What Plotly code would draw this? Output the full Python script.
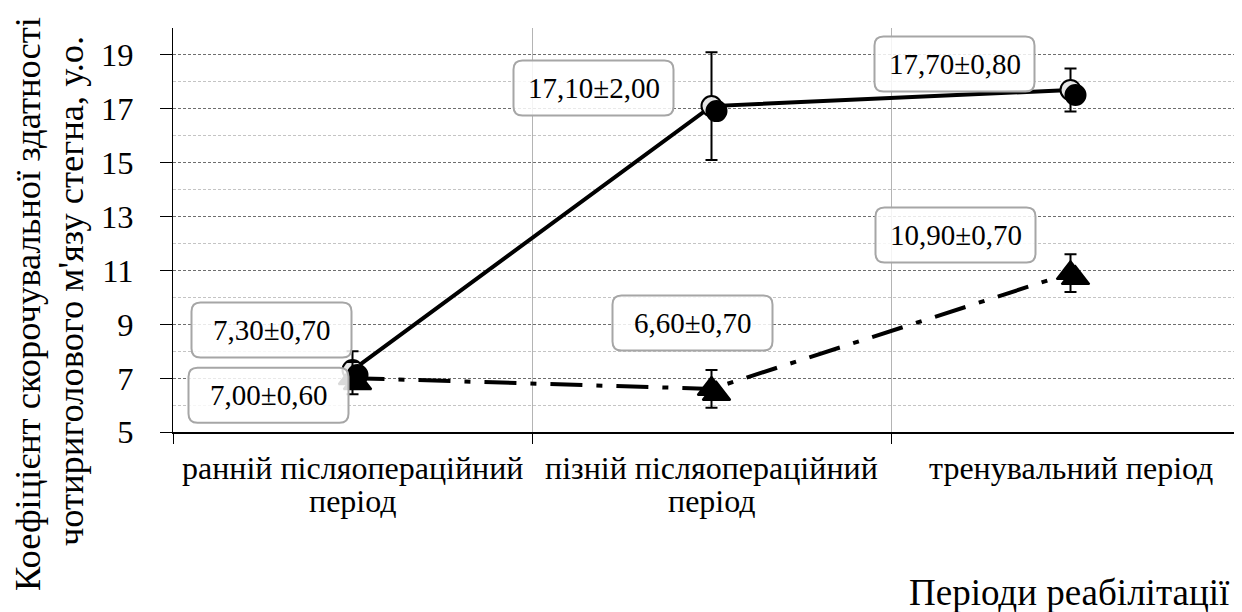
import plotly.graph_objects as go

categories = ["ранній післяопераційний<br>період", "пізній післяопераційний<br>період", "тренувальний період"]
series1 = [7.3, 17.1, 17.7]
series1_err = [0.7, 2.0, 0.8]
series2 = [7.0, 6.6, 10.9]
series2_err = [0.6, 0.7, 0.7]
y_ticks = [5, 7, 9, 11, 13, 15, 17, 19]
labels1 = ["7,30±0,70", "17,10±2,00", "17,70±0,80"]
labels2 = ["7,00±0,60", "6,60±0,70", "10,90±0,70"]
y_title_lines = ["Коефіцієнт скорочувальної здатності", "чотириголового м'язу стегна, у.о."]
x_title = "Періоди реабілітації"

xi = list(range(len(categories)))
FONT = "Liberation Serif"

# pixel geometry helpers (styles only)
cat_px = 359.0
unit_px = 404.0 / 15.0
sh_x = 5.0 / cat_px
sh_y = 5.0 / unit_px
xr = [-0.5, -0.5 + 1069.0 / cat_px]
yr = [5, 20]

fig = go.Figure()

def add_series(vals, errs, dash, symbol, size, fill, xa, ya, shadow):
    fig.add_trace(go.Scatter(
        x=xi, y=vals, mode=("markers" if shadow else "lines+markers"), xaxis=xa, yaxis=ya,
        line=dict(color="black", width=4, dash=dash),
        marker=dict(symbol=symbol, size=size, color=("black" if shadow else fill),
                    line=dict(color="black", width=2)),
        error_y=None if shadow else dict(type="data", array=errs, color="black",
                                           thickness=2, width=6),
        showlegend=False, hoverinfo="skip"))

dash2 = "32px,14px,6px,14px"
add_series(series1, series1_err, "solid", "circle", 20, "#e6e6e6", "x2", "y2", True)
add_series(series1, series1_err, "solid", "circle", 20, "#e6e6e6", "x", "y", False)
add_series(series2, series2_err, dash2, "triangle-up", 24, "black", "x2", "y2", True)
add_series(series2, series2_err, dash2, "triangle-up", 24, "black", "x", "y", False)


def rounded_box(cx, cy, w=160, h=55, r=9):
    x0, x1 = cx - w / 2, cx + w / 2
    y0, y1 = cy - h / 2, cy + h / 2
    return (f"M{x0 + r},{y0} L{x1 - r},{y0} Q{x1},{y0} {x1},{y0 + r} "
            f"L{x1},{y1 - r} Q{x1},{y1} {x1 - r},{y1} L{x0 + r},{y1} "
            f"Q{x0},{y1} {x0},{y1 - r} L{x0},{y0 + r} Q{x0},{y0} {x0 + r},{y0} Z")


shifts1 = [(-81, 40), (-118, 18), (-116, 26)]
shifts2 = [(-84, -17), (-19, 66), (-115, 38)]
for i in xi:
    for vals, labs, shifts in ((series1, labels1, shifts1), (series2, labels2, shifts2)):
        fig.add_shape(type="path", xref="x", yref="y", xsizemode="pixel", ysizemode="pixel",
                      xanchor=i, yanchor=vals[i], path=rounded_box(*shifts[i]),
                      fillcolor="rgba(255,255,255,0.85)", line=dict(color="#a6a6a6", width=2),
                      layer="above")
        fig.add_annotation(x=i, y=vals[i], text=labs[i], showarrow=False,
                           xshift=shifts[i][0], yshift=shifts[i][1],
                           font=dict(family=FONT, size=29, color="black"))

for txt, yp, xs in zip(y_title_lines, [0.317, 0.349], [-145, -103]):
    fig.add_annotation(xref="paper", yref="paper", x=0, y=yp, xanchor="center", yanchor="middle",
                       xshift=xs, textangle=-90, showarrow=False, text=txt,
                       font=dict(family=FONT, size=36.5, color="black"))
fig.add_annotation(xref="paper", yref="paper", x=1, y=-0.397, xanchor="right", yanchor="middle",
                   xshift=-10, showarrow=False, text=x_title,
                   font=dict(family=FONT, size=37, color="black"))

# category labels (two tight lines each)
for i, cat in enumerate(categories):
    for k, line in enumerate(cat.split("<br>")):
        fig.add_annotation(x=i, xref="x", yref="paper", y=[-0.088, -0.172][k],
                           xanchor="center", yanchor="middle", showarrow=False, text=line,
                           font=dict(family=FONT, size=32, color="black"))

fig.update_layout(
    width=1234, height=604,
    margin=dict(l=165, r=0, t=20, b=180, autoexpand=False),
    paper_bgcolor="white", plot_bgcolor="white",
    font=dict(family=FONT, color="black"),
    xaxis=dict(range=xr, tickmode="array", tickvals=xi, ticktext=categories, automargin=False,
               showticklabels=False, ticks="",
               showgrid=False, zeroline=False,
               showline=True, linecolor="black", linewidth=2,
               minor=dict(tickmode="array", tickvals=[-0.5, 0.5, 1.5, 2.5], ticks="outside",
                          ticklen=10, tickcolor="black", tickwidth=1,
                          showgrid=True, gridcolor="#b4b4b4", gridwidth=1)),
    yaxis=dict(range=yr, tickmode="array", tickvals=y_ticks, automargin=False,
               tickfont=dict(family=FONT, size=32.5), ticks="outside", ticklen=12,
               ticklabelstandoff=20,
               tickcolor="black", tickwidth=1, showline=True, linecolor="black", linewidth=1,
               zeroline=False, showgrid=True, gridcolor="#6e6e6e", gridwidth=1, griddash="3px,2px",
               minor=dict(tickmode="array", tickvals=[6, 8, 10, 12, 14, 16, 18, 20],
                          showgrid=True, gridcolor="#c4c4c4", gridwidth=1, griddash="3px,2px")),
    xaxis2=dict(range=[xr[0] - sh_x, xr[1] - sh_x], overlaying="x", visible=False),
    yaxis2=dict(range=[yr[0] + sh_y, yr[1] + sh_y], overlaying="y", visible=False),
)

fig.write_html("out.html")
